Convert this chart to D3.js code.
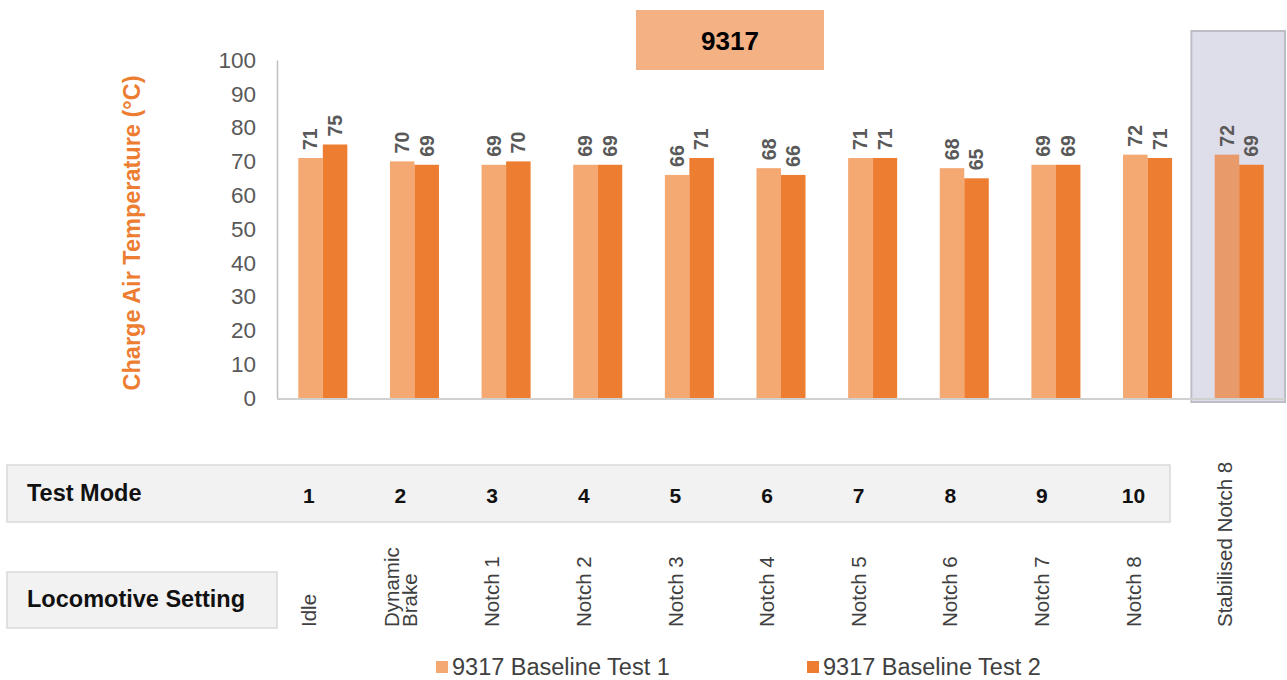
<!DOCTYPE html>
<html>
<head>
<meta charset="utf-8">
<script src="https://cdn.jsdelivr.net/npm/d3@7"></script>
<style>
  html, body { margin: 0; padding: 0; background: #fff; }
  svg { display: block; font-family: "Liberation Sans", Arial, sans-serif; }
</style>
</head>
<body>
<svg id="chart" width="1287" height="680"></svg>
<script>
// Charge air temperature per test mode, two baseline runs of locomotive 9317
const testModes = ["1", "2", "3", "4", "5", "6", "7", "8", "9", "10", ""];
const settings = [
  ["Idle"], ["Dynamic", "Brake"], ["Notch 1"], ["Notch 2"], ["Notch 3"], ["Notch 4"],
  ["Notch 5"], ["Notch 6"], ["Notch 7"], ["Notch 8"], ["Stabilised Notch 8"]
];
const seriesNames = ["9317 Baseline Test 1", "9317 Baseline Test 2"];
const test1 = [71, 70, 69, 69, 66, 68, 71, 68, 69, 72, 72];
const test2 = [75, 69, 70, 69, 71, 66, 71, 65, 69, 71, 69];
const yTicks = [0, 10, 20, 30, 40, 50, 60, 70, 80, 90, 100];
const highlighted = 10; // stabilised notch 8 column

const colors = ["#F4A872", "#ED7D31"];
const highlightLight = "#E99A6B";

const svg = d3.select("#chart");
const plot = { left: 277, right: 1285, top: 60, bottom: 398 };

const idx = d3.range(settings.length);
const x = d3.scaleBand().domain(idx).range([plot.left, plot.right])
  .paddingInner(0.465).paddingOuter(0.2325);
const xs = d3.scaleBand().domain([0, 1]).range([0, x.bandwidth()]);
const y = d3.scaleLinear().domain([0, 100]).range([plot.bottom, plot.top]);

// Highlight panel behind the stabilised column
const step = x.step();
svg.append("rect")
  .attr("x", x(highlighted) + x.bandwidth() / 2 - step / 2 - 2)
  .attr("y", 31)
  .attr("width", step + 2)
  .attr("height", plot.bottom + 4 - 31)
  .attr("fill", "#DEDDEA")
  .attr("stroke", "#BDBDC6")
  .attr("stroke-width", 2);

// Title tag
svg.append("rect").attr("x", 636).attr("y", 10).attr("width", 188).attr("height", 60)
  .attr("fill", "#F4B183");
svg.append("text").attr("x", 730).attr("y", 41).attr("dy", "0.35em")
  .attr("text-anchor", "middle").attr("font-size", 26).attr("font-weight", "bold")
  .attr("fill", "#000").text("9317");

// Y axis
const yAxis = svg.append("g").attr("transform", `translate(${plot.left},0)`)
  .call(d3.axisLeft(y).tickValues(yTicks).tickSize(0).tickPadding(21));
yAxis.select(".domain").attr("stroke", "#BFBFBF").attr("stroke-width", 1.5);
yAxis.selectAll("text").attr("font-size", 22.5).attr("fill", "#595959")
  .attr("font-family", "Liberation Sans, Arial, sans-serif");

// Y axis title
svg.append("text")
  .attr("transform", `translate(140, ${(plot.top + plot.bottom) / 2 + 4}) rotate(-90)`)
  .attr("text-anchor", "middle")
  .attr("font-size", 23.5).attr("font-weight", "bold").attr("fill", "#ED7D31")
  .text("Charge Air Temperature (°C)");

// Bars
const series = [test1, test2];
series.forEach((vals, s) => {
  const g = svg.append("g");
  g.selectAll("rect").data(vals).join("rect")
    .attr("x", (d, i) => x(i) + xs(s))
    .attr("y", d => y(d))
    .attr("width", xs.bandwidth())
    .attr("height", d => y(0) - y(d))
    .attr("fill", (d, i) => (s === 0 && i === highlighted) ? highlightLight : colors[s]);
  g.selectAll("text").data(vals).join("text")
    .attr("transform", (d, i) => `translate(${x(i) + xs(s) + xs.bandwidth() / 2}, ${y(d) - 8}) rotate(-90)`)
    .attr("dy", "0.35em")
    .attr("text-anchor", "start")
    .attr("font-size", 19.5).attr("font-weight", "bold").attr("fill", "#595959")
    .text(d => d3.format("d")(d));
});

// X baseline
svg.append("line")
  .attr("x1", plot.left).attr("x2", plot.right)
  .attr("y1", plot.bottom + 1).attr("y2", plot.bottom + 1)
  .attr("stroke", "#D0D0D0").attr("stroke-width", 2);

// Test mode row
const labelX = i => x(i) + x.bandwidth() / 2 - 14;
svg.append("rect").attr("x", 7).attr("y", 465).attr("width", 1163).attr("height", 57)
  .attr("fill", "#F2F2F2").attr("stroke", "#D9D9D9").attr("stroke-width", 1.5);
svg.append("text").attr("x", 27).attr("y", 493).attr("dy", "0.35em")
  .attr("font-size", 23.5).attr("font-weight", "bold").attr("fill", "#111").text("Test Mode");
svg.append("g").selectAll("text").data(testModes).join("text")
  .attr("x", (d, i) => labelX(i)).attr("y", 496).attr("dy", "0.35em")
  .attr("text-anchor", "middle").attr("font-size", 21).attr("font-weight", "bold")
  .attr("fill", "#111").text(d => d);

// Locomotive setting row
svg.append("rect").attr("x", 7).attr("y", 572).attr("width", 270).attr("height", 56)
  .attr("fill", "#F2F2F2").attr("stroke", "#D9D9D9").attr("stroke-width", 1.5);
svg.append("text").attr("x", 27).attr("y", 599).attr("dy", "0.35em")
  .attr("font-size", 23.5).attr("font-weight", "bold").attr("fill", "#111").text("Locomotive Setting");
const setG = svg.append("g").selectAll("g").data(settings).join("g")
  .attr("transform", (d, i) => `translate(${labelX(i)}, 627) rotate(-90)`);
setG.selectAll("text").data(d => d.map((t, k) => ({ t, k, n: d.length }))).join("text")
  .attr("x", 0)
  .attr("y", d => (d.k - (d.n - 1) / 2) * 18)
  .attr("dy", "0.35em")
  .attr("text-anchor", "start")
  .attr("font-size", 20.5).attr("fill", "#404040")
  .text(d => d.t);

// Legend
const legendX = [436, 807];
const leg = svg.append("g").selectAll("g").data(seriesNames).join("g")
  .attr("transform", (d, i) => `translate(${legendX[i]}, 667)`);
leg.append("rect").attr("x", 0).attr("y", -6).attr("width", 12).attr("height", 12)
  .attr("fill", (d, i) => colors[i]);
leg.append("text").attr("x", 16).attr("y", 0).attr("dy", "0.36em")
  .attr("font-size", 23.5).attr("fill", "#404040").text(d => d);
</script>
</body>
</html>
